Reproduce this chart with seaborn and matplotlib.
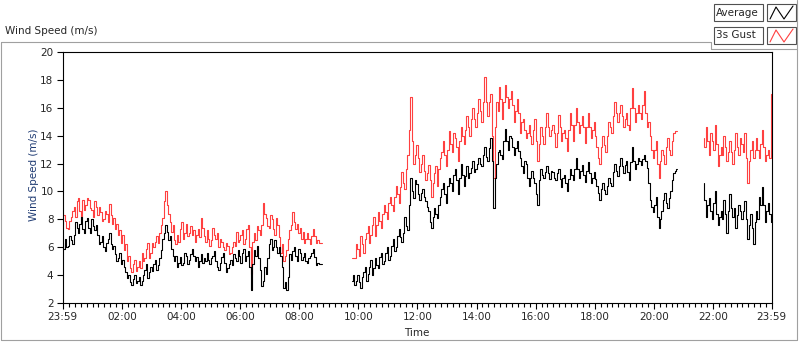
import numpy as np
import pandas as pd
import matplotlib
matplotlib.use("Agg")
import matplotlib.pyplot as plt
import seaborn as sns
from matplotlib.lines import Line2D
from matplotlib.patches import Rectangle

# ---------------- data (minutes after 23:59, wind speed in m/s) ----------------
step_min = 3
seg_start = [0, 588, 1302]

avg_1 = [6.3, 5.9, 6.6, 6.0, 6.1, 6.8, 6.5, 6.2, 6.9, 7.8, 7.4, 7.0, 7.7, 8.2, 7.3, 7.0,
         7.9, 8.1, 7.4, 7.0, 8.0, 7.5, 7.2, 7.6, 6.9, 6.2, 6.4, 6.8, 6.0, 5.7, 6.3, 6.6,
         7.0, 6.2, 5.9, 6.1, 5.5, 5.0, 5.2, 5.6, 4.8, 5.1, 4.6, 4.2, 3.8, 4.0, 3.5, 3.3,
         3.7, 4.0, 3.4, 3.6, 3.9, 3.3, 3.6, 4.0, 4.4, 4.8, 3.8, 4.2, 4.6, 4.3, 4.8, 5.1,
         4.4, 4.7, 5.2, 5.8, 6.6, 7.0, 7.6, 7.1, 6.5, 6.8, 5.9, 5.4, 5.0, 5.4, 4.6, 4.9,
         5.3, 4.7, 4.9, 5.6, 5.4, 4.8, 5.1, 5.5, 5.9, 5.4, 5.0, 5.3, 4.6, 5.0, 5.5, 4.9,
         5.2, 5.0, 5.6, 5.1, 4.8, 5.2, 5.4, 5.7, 5.0, 4.6, 4.4, 4.9, 5.3, 5.6, 4.9, 4.2,
         4.5, 4.8, 5.1, 4.7, 5.5, 5.2, 5.0, 5.8, 5.4, 4.9, 5.6, 5.9, 5.0, 5.4, 5.7, 4.6,
         2.9, 4.8, 5.8, 5.4, 6.1, 5.2, 4.4, 3.2, 3.6, 4.6, 4.1, 5.2, 6.2, 6.6, 5.8, 6.0,
         6.5, 6.0, 5.6, 6.0, 5.4, 4.6, 3.1, 3.5, 2.9, 3.9, 5.5, 5.1, 5.7, 6.0, 5.4, 5.0,
         5.9, 5.6, 5.1, 5.3, 5.6, 5.0, 4.9, 5.2, 5.4, 5.6, 5.9, 5.3, 4.7, 4.9, 4.8, 4.8,
         4.8]
gust_1 = [7.6, 8.3, 7.9, 7.4, 7.3, 7.9, 8.2, 8.6, 8.9, 8.2, 9.3, 9.5, 8.6, 8.2, 9.4, 8.7,
          9.0, 9.5, 9.4, 8.8, 8.7, 8.2, 9.3, 8.9, 8.3, 8.9, 8.5, 7.9, 8.0, 8.6, 8.4, 7.8,
          9.1, 8.3, 7.7, 8.1, 7.3, 7.7, 6.9, 7.2, 6.3, 6.9, 5.8, 6.2, 5.0, 5.4, 4.5, 4.2,
          4.8, 5.1, 4.3, 4.6, 5.0, 4.5, 5.6, 5.0, 5.2, 5.9, 6.3, 5.2, 5.6, 6.3, 6.0, 6.4,
          6.8, 6.3, 7.0, 7.6, 8.1, 9.3, 10.0, 9.0, 8.4, 7.8, 7.1, 7.6, 6.5, 6.2, 6.9, 6.4,
          7.3, 7.8, 6.6, 7.0, 7.7, 6.8, 7.0, 7.5, 6.9, 7.2, 6.4, 6.9, 7.3, 6.7, 8.1, 7.4,
          6.8, 6.4, 7.2, 6.6, 6.1, 6.5, 7.4, 6.9, 6.6, 7.0, 6.0, 6.6, 6.4, 6.0, 5.8, 6.3,
          6.1, 5.5, 5.6, 6.0, 6.4, 6.1, 7.1, 6.4, 6.5, 6.9, 7.2, 6.2, 6.6, 7.3, 7.6, 6.0,
          4.1, 6.4, 7.0, 6.5, 7.5, 7.2, 6.9, 7.6, 9.2, 8.4, 8.1, 7.5, 7.4, 8.3, 8.0, 7.3,
          6.9, 8.1, 7.6, 6.7, 5.6, 6.2, 5.0, 5.4, 5.8, 6.6, 7.2, 7.6, 8.5, 7.8, 7.3, 7.7,
          7.0, 7.4, 6.6, 7.1, 6.3, 6.6, 7.0, 6.6, 6.2, 6.8, 7.3, 6.8, 6.3, 6.5, 6.3, 6.3,
          6.3]

avg_2 = [3.6, 4.0, 3.3, 3.6, 4.0, 3.5, 3.1, 3.9, 4.2, 4.6, 3.6, 4.1, 4.6, 5.1, 4.0, 4.5,
         5.2, 4.7, 4.5, 5.3, 5.6, 4.8, 5.0, 5.6, 6.0, 5.1, 5.4, 6.1, 6.6, 5.7, 6.0, 6.8,
         7.3, 6.7, 6.4, 7.0, 8.2, 7.5, 7.2, 9.0, 11.0, 10.0, 9.5, 10.8, 10.5, 9.8, 9.4, 9.9,
         10.2, 9.6, 9.3, 8.9, 8.6, 7.8, 7.4, 8.2, 8.8, 8.4, 8.1, 9.0, 9.6, 10.2, 10.6, 9.8,
         9.2, 10.4, 11.0, 10.6, 10.0, 11.2, 11.6, 10.8, 9.8, 11.0, 12.0, 11.2, 10.4, 11.1,
         11.8, 11.0, 11.3, 11.7, 12.2, 11.4, 11.6, 12.0, 12.4, 12.0, 11.8, 12.6, 13.2, 12.5,
         12.2, 13.1, 13.8, 12.2, 8.8, 11.0, 12.0, 12.8, 13.0, 12.6, 12.3, 13.6, 14.5, 13.6,
         13.0, 14.0, 13.8, 13.2, 12.6, 13.1, 13.6, 12.9, 12.4, 11.8, 11.3, 12.2, 12.0, 11.0,
         10.4, 11.0, 11.5, 11.0, 10.6, 9.8, 9.0, 10.8, 11.6, 11.2, 11.0, 11.4, 11.8, 11.3,
         10.9, 11.5, 11.4, 11.0, 10.8, 11.3, 11.6, 10.9, 10.3, 11.0, 11.2, 10.6, 10.0, 10.9,
         11.6, 11.2, 10.8, 11.6, 12.4, 11.6, 11.0, 11.5, 11.9, 11.2, 10.7, 11.5, 12.1, 11.3,
         10.6, 11.0, 11.4, 10.9, 10.4, 9.9, 9.4, 10.2, 10.6, 10.1, 9.8, 10.4, 11.0, 10.6,
         10.4, 11.4, 12.0, 11.5, 11.1, 11.8, 12.4, 11.8, 11.3, 11.9, 12.2, 11.4, 10.8, 12.1,
         13.2, 12.2, 11.6, 12.0, 12.4, 12.2, 11.9, 12.3, 12.6, 12.2, 11.7, 10.6, 9.4, 8.9,
         8.5, 9.0, 9.6, 8.2, 7.4, 8.0, 8.6, 9.4, 9.9, 9.2, 8.8, 9.5, 10.0, 10.8, 11.3, 11.5,
         11.6]
gust_2 = [5.2, 5.2, 5.2, 6.2, 5.9, 5.4, 6.8, 6.2, 5.6, 6.6, 7.0, 7.5, 6.3, 6.9, 7.6, 8.2,
          6.8, 7.6, 8.5, 7.9, 7.4, 8.4, 9.0, 8.5, 8.0, 9.2, 9.6, 9.0, 8.6, 9.6, 10.4, 9.8,
          9.2, 10.3, 11.4, 10.6, 10.2, 11.6, 12.6, 14.4, 16.8, 13.6, 12.0, 12.6, 13.3, 12.4,
          11.4, 12.0, 12.6, 11.5, 10.8, 11.3, 11.9, 10.8, 9.6, 10.6, 11.3, 11.8, 10.4, 11.6,
          12.4, 12.8, 13.6, 12.6, 11.8, 13.0, 14.3, 13.4, 12.8, 14.2, 13.8, 13.2, 12.2, 13.6,
          14.6, 14.0, 13.4, 14.4, 15.4, 14.6, 14.0, 15.2, 16.0, 15.2, 14.6, 15.6, 16.6, 15.8,
          15.0, 16.4, 18.2, 16.4, 15.4, 16.4, 17.0, 14.0, 11.0, 14.6, 16.4, 15.8, 17.5, 16.6,
          15.2, 16.4, 17.6, 16.8, 16.0, 16.6, 17.2, 16.2, 15.0, 15.8, 16.6, 15.6, 14.2, 15.0,
          15.2, 14.4, 13.8, 14.2, 14.8, 14.0, 13.4, 14.4, 15.2, 13.6, 12.2, 13.4, 14.6, 14.0,
          13.4, 14.6, 15.6, 14.6, 14.0, 14.4, 14.8, 14.2, 13.2, 14.2, 15.5, 14.6, 13.6, 14.2,
          14.4, 13.8, 12.9, 14.4, 15.6, 14.8, 13.6, 14.8, 16.0, 15.0, 14.2, 14.8, 15.4, 14.6,
          13.5, 14.6, 15.6, 14.6, 13.8, 14.4, 15.0, 14.0, 13.2, 12.4, 12.0, 13.2, 14.0, 13.3,
          12.8, 14.0, 15.0, 14.6, 14.2, 15.4, 16.4, 15.6, 15.0, 15.6, 16.2, 15.4, 14.6, 15.2,
          15.6, 14.8, 14.4, 16.0, 17.4, 16.0, 15.0, 15.6, 16.2, 15.6, 15.2, 16.2, 17.2, 15.6,
          14.6, 15.0, 14.0, 13.0, 12.4, 13.0, 13.6, 12.0, 11.0, 12.2, 13.0, 12.6, 12.0, 13.2,
          13.8, 13.0, 12.6, 13.6, 14.2, 14.3, 14.3]

avg_3 = [10.6, 9.4, 8.2, 9.0, 9.5, 8.6, 8.0, 9.2, 10.0, 8.4, 7.6, 8.2, 8.6, 8.0, 9.4, 8.4,
         7.0, 8.6, 9.8, 8.8, 8.2, 8.8, 7.4, 8.3, 9.0, 8.6, 8.0, 8.6, 9.3, 8.0, 6.6, 7.6,
         8.4, 7.4, 6.2, 7.8, 8.6, 8.0, 9.6, 9.0, 10.3, 9.0, 7.8, 8.6, 9.2, 8.4, 7.8]
gust_3 = [13.8, 13.2, 14.6, 13.6, 12.6, 14.2, 13.6, 13.0, 14.8, 13.4, 11.8, 12.6, 13.2, 12.6,
          14.0, 13.2, 12.2, 12.8, 13.6, 12.8, 12.0, 13.0, 14.2, 13.2, 12.6, 13.8, 13.4, 12.8,
          14.2, 12.4, 10.6, 12.2, 13.0, 13.6, 12.4, 13.0, 13.8, 13.0, 12.4, 13.4, 14.4, 13.2,
          12.2, 12.6, 13.0, 12.4, 17.0]

series_names = ["Average", "3s Gust"]
series_colors = {"Average": "#000000", "3s Gust": "#ff4040"}

major_ticks = [0, 121, 241, 361, 481, 601, 721, 841, 961, 1081, 1201, 1321, 1440]
major_labels = ["23:59", "02:00", "04:00", "06:00", "08:00", "10:00", "12:00",
                "14:00", "16:00", "18:00", "20:00", "22:00", "23:59"]
y_ticks = [2, 4, 6, 8, 10, 12, 14, 16, 18, 20]

# ---------------- long-form table ----------------
rows = []
for s, (start, a, g) in enumerate(zip(seg_start, [avg_1, avg_2, avg_3],
                                      [gust_1, gust_2, gust_3])):
    for k, (va, vg) in enumerate(zip(a, g)):
        t = start + step_min * k
        rows.append((t, va, "Average", s))
        rows.append((t, vg, "3s Gust", s))
df = pd.DataFrame(rows, columns=["t", "speed", "series", "seg"])

# ---------------- figure ----------------
sns.set_style("white")
plt.rcParams["font.family"] = ["DejaVu Sans"]
W, H = 800, 342
fig = plt.figure(figsize=(W / 100, H / 100), dpi=100)
fig.patch.set_facecolor("white")


def fx(x):
    return x / W


def fy(y):
    return 1 - y / H


ax = fig.add_axes([fx(62.5), fy(303), 709 / W, 251 / H])
sns.lineplot(data=df, x="t", y="speed", hue="series",
             hue_order=["3s Gust", "Average"], palette=series_colors,
             units="seg", estimator=None, drawstyle="steps-mid",
             linewidth=0.8, legend=False, ax=ax)

ax.set_xlim(0, 1440)
ax.set_ylim(2, 20)
ax.set_xticks(major_ticks)
ax.set_xticklabels(major_labels)
minor = [m for m in range(1, 1440, 12) if m not in major_ticks and m > 3]
ax.set_xticks(minor, minor=True)
ax.set_yticks(y_ticks)
ax.tick_params(axis="both", which="major", direction="out", length=4.5,
               width=0.8, labelsize=7.5, pad=2, color="black",
               bottom=True, left=True)
ax.tick_params(axis="x", which="minor", direction="out", length=3,
               width=0.8, color="black", bottom=True)
for sp in ax.spines.values():
    sp.set_visible(True)
    sp.set_color("black")
    sp.set_linewidth(0.8)

ax.set_xlabel("Time", fontsize=7.5)
ax.xaxis.set_label_coords(0.5, (303 - 328) / 251)
ax.set_ylabel("Wind Speed (m/s)", fontsize=7.5, color="#1f3b73")
ax.yaxis.set_label_coords((39 - 62.5) / 709, 0.51)

# title
fig.text(fx(5), fy(31), "Wind Speed (m/s)", fontsize=7.5, ha="left", va="center")

# outer panel frame
gray = "#a0a0a0"
for (x0, y0, x1, y1) in [(1, 42, 711, 42), (1, 42, 1, 340), (1, 340, 797, 340),
                         (797, 0, 797, 340), (711, 42, 711, 49), (711, 49, 797, 49)]:
    fig.add_artist(Line2D([fx(x0), fx(x1)], [fy(y0), fy(y1)],
                          transform=fig.transFigure, color=gray, lw=0.8))

# legend
for row, name in enumerate(series_names):
    y0 = 4 + row * 23
    fig.add_artist(Rectangle((fx(714), fy(y0 + 17)), 49 / W, 17 / H,
                             transform=fig.transFigure, facecolor="white",
                             edgecolor="#505050", lw=0.8))
    fig.text(fx(716), fy(y0 + 8.5), name, fontsize=7.5, ha="left", va="center")
    fig.add_artist(Rectangle((fx(767), fy(y0 + 17)), 29 / W, 17 / H,
                             transform=fig.transFigure, facecolor="white",
                             edgecolor="#505050", lw=0.8))
    zx = [770, 776, 784, 793]
    zy = [y0 + 15, y0 + 3, y0 + 15, y0 + 2]
    fig.add_artist(Line2D([fx(v) for v in zx], [fy(v) for v in zy],
                          transform=fig.transFigure,
                          color=series_colors[name], lw=0.8))

fig.savefig("out.png", dpi=100, facecolor="white")
